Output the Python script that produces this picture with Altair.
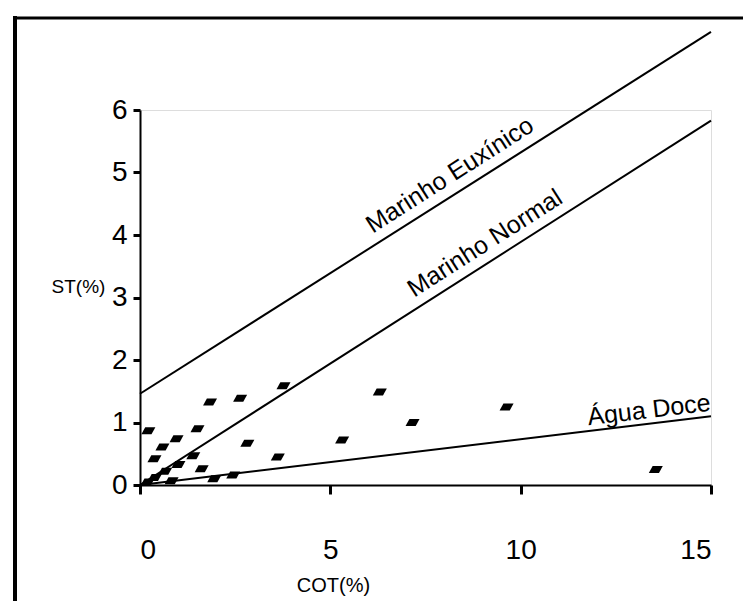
import altair as alt
import pandas as pd

# ---- data ----
cot = [0.22, 1.84, 2.63, 3.77, 1.51, 0.96, 0.59, 0.38, 2.82, 3.62, 1.40, 1.01,
       1.62, 0.66, 0.39, 0.83, 1.95, 2.45, 0.20, 5.31, 6.30, 7.16, 9.63, 13.55]
st = [0.87, 1.33, 1.39, 1.59, 0.90, 0.74, 0.61, 0.42, 0.67, 0.45, 0.47, 0.33,
      0.26, 0.22, 0.12, 0.07, 0.10, 0.16, 0.05, 0.72, 1.49, 1.00, 1.25, 0.25]

line_names = ["Marinho Euxínico", "Marinho Normal", "Água Doce"]
line_x0 = [0, 0, 0]
line_y0 = [1.46, 0.0, 0.0]
line_x1 = [15, 15, 15]
line_y1 = [7.25, 5.83, 1.10]

label_x = [8.14, 9.06, 13.37]
label_y = [4.96, 3.87, 1.20]
label_angle = [327.4, 327.4, 353.1]

x_ticks = [0, 5, 10, 15]
y_ticks = [0, 1, 2, 3, 4, 5, 6]

# ---- tables ----
pts = pd.DataFrame({"COT": cot, "ST": st})
lines = pd.DataFrame({
    "name": line_names * 2,
    "COT": line_x0 + line_x1,
    "ST": line_y0 + line_y1,
    "order": [0] * 3 + [1] * 3,
})
labels = pd.DataFrame({"name": line_names, "COT": label_x, "ST": label_y, "angle": label_angle})
one = pd.DataFrame({"k": [0]})

W, H = 571, 375
PL, PT, PR, PB = 132, 102, 32, 116

tick_font = "Liberation Sans Narrow, Arial Narrow, Liberation Sans, sans-serif"
text_font = "Liberation Sans, Arial, sans-serif"

xscale = alt.Scale(domain=[0, 15], nice=False, zero=False)
yscale = alt.Scale(domain=[0, 6], nice=False, zero=False)

xaxis = alt.Axis(values=x_ticks, format="d", title="COT(%)", grid=False, domainColor="black",
                 domainWidth=2, tickColor="black", tickWidth=3, tickSize=9,
                 labelFont=tick_font, labelFontSize=28, labelColor="black",
                 labelPadding=42, titleFont=text_font, titleFontSize=20,
                 titleFontWeight="normal", titleColor="black",
                 titleX=193, titleY=100, titleAlign="center", titleBaseline="middle")
yaxis = alt.Axis(values=y_ticks, format="d", title="ST(%)", grid=False, domainColor="black",
                 domainWidth=2, tickColor="black", tickWidth=3, tickSize=7,
                 labelFont=tick_font, labelFontSize=28, labelColor="black",
                 labelPadding=6, titleFont=text_font, titleFontSize=19,
                 titleFontWeight="normal", titleColor="black", titleAngle=0,
                 titleX=-62, titleY=176, titleAlign="center", titleBaseline="middle")

points = alt.Chart(pts).mark_point(
    shape="M -0.45 -0.5 L 1 -0.5 L 0.45 0.5 L -1 0.5 Z",
    filled=True, color="black", opacity=1, size=196,
).encode(
    x=alt.X("COT:Q", scale=xscale, axis=xaxis),
    y=alt.Y("ST:Q", scale=yscale, axis=yaxis),
)

line_layer = alt.Chart(lines).mark_line(color="black", strokeWidth=2, clip=False).encode(
    x=alt.X("COT:Q", scale=xscale),
    y=alt.Y("ST:Q", scale=yscale),
    detail="name:N",
    order="order:Q",
)

text_layer = alt.Chart(labels).mark_text(
    font=text_font, fontSize=25, color="black", align="center", baseline="middle",
).encode(
    x=alt.X("COT:Q", scale=xscale),
    y=alt.Y("ST:Q", scale=yscale),
    text="name:N",
    angle=alt.Angle("angle:Q", scale=None),
)

border_left = alt.Chart(one).mark_rule(color="black", strokeWidth=4).encode(
    x=alt.value(-125), y=alt.value(-94), y2=alt.value(H + PB)
)
border_top = alt.Chart(one).mark_rule(color="black", strokeWidth=3).encode(
    y=alt.value(-92), x=alt.value(-127), x2=alt.value(W + PR)
)

chart = alt.layer(line_layer, points, text_layer, border_left, border_top).properties(
    width=W, height=H,
    autosize=alt.AutoSizeParams(type="none"),
    padding={"left": PL, "top": PT, "right": PR, "bottom": PB},
).configure_view(stroke=None).configure(background="white")

chart.save("out.html", embed_options={"renderer": "svg", "actions": False})
